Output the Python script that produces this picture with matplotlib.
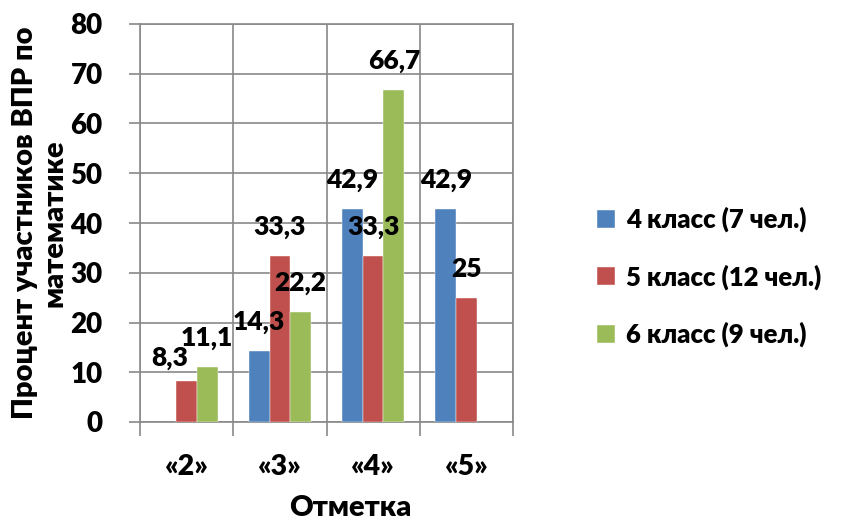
import numpy as np
import matplotlib
matplotlib.use('Agg')
import matplotlib.pyplot as plt
from matplotlib.ticker import FixedLocator

plt.rcParams['font.family'] = ['Lato', 'Noto Sans', 'DejaVu Sans']
plt.rcParams['font.weight'] = 'heavy'

categories = ['«2»', '«3»', '«4»', '«5»']
series_names = ['4 класс (7 чел.)', '5 класс (12 чел.)', '6 класс (9 чел.)']
grade4 = [None, 14.3, 42.9, 42.9]
grade5 = [8.3, 33.3, 33.3, 25]
grade6 = [11.1, 22.2, 66.7, None]
colors = ['#4F81BD', '#C0504D', '#9BBB59']

fig = plt.figure(figsize=(8.44, 5.22), dpi=100)
ax = fig.add_axes([140/844, 1 - 422/522, 373/844, 398/522])

x = np.arange(len(categories))
w = 0.222
grid_c = '#898989'
wt = 'heavy'

for k, (vals, col, name) in enumerate(zip([grade4, grade5, grade6], colors, series_names)):
    xs = [xi + (k - 1) * w for xi, v in zip(x, vals) if v is not None]
    ys = [v for v in vals if v is not None]
    bars = ax.bar(xs, ys, width=w, color=col, label=name, zorder=3,
                  edgecolor='white', linewidth=0.3)
    for b, v in zip(bars, ys):
        # excel nudged the first label left/down so it doesn't collide
        off = (-17, 23) if (k == 1 and v == 8.3) else (0, 29)
        ax.annotate(f'{v:g}'.replace('.', ','),
                    (b.get_x() + b.get_width() / 2, v),
                    xytext=off, textcoords='offset pixels',
                    ha='center', va='center', fontsize=19,
                    fontweight=wt, zorder=5)

ax.set_xlim(-0.5, 3.5)
ax.set_ylim(0, 80)
ax.set_yticks(range(0, 81, 10))
ax.set_xticks(x)
ax.set_xticklabels(categories, fontweight=wt)
ax.set_yticklabels([str(t) for t in range(0, 81, 10)], fontweight=wt)
ax.xaxis.set_minor_locator(FixedLocator(np.arange(-0.5, 3.6, 1)))
ax.tick_params(axis='x', which='major', length=0, pad=23, labelsize=20.5)
ax.tick_params(axis='x', which='minor', length=10, width=1.2, color=grid_c, direction='out')
ax.tick_params(axis='y', length=8, width=1.2, color=grid_c, pad=19, labelsize=20)

ax.grid(True, axis='y', color=grid_c, linewidth=1.2, zorder=0)
ax.grid(True, axis='x', which='minor', color=grid_c, linewidth=1.2, zorder=0)
for s in ax.spines.values():
    s.set_color(grid_c)
    s.set_linewidth(1.2)

fig.text(350/844, 1 - 508/522, 'Отметка', ha='center', va='center',
         fontsize=21, fontweight=wt)
fig.text(40/844, 1 - 223/522, 'Процент участников ВПР по\nматематике',
         rotation=90, ha='center', va='center', fontsize=21,
         fontweight=wt, linespacing=1.15)

leg = fig.legend(loc='center left', bbox_to_anchor=(587/844, 1 - 277/522),
                 frameon=False, prop={'size': 18.5, 'weight': wt},
                 handlelength=0.7, handleheight=0.7, borderaxespad=0,
                 handletextpad=0.4, labelspacing=1.25)

fig.savefig('out.png', dpi=100)
